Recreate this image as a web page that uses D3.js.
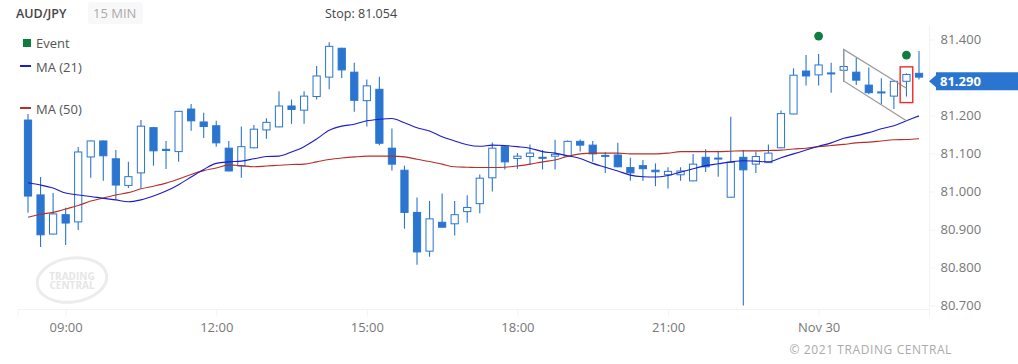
<!DOCTYPE html>
<html>
<head>
<meta charset="utf-8">
<script src="https://cdn.jsdelivr.net/npm/d3@7"></script>
<style>
    html, body { margin: 0; padding: 0; background: #fff; }
    svg { display: block; font-family: "Open Sans", sans-serif; }
</style>
</head>
<body>
<div id="chart"></div>
<script>
// AUD/JPY 15 min candles, one entry per bar (08:15 to 02:00)
const opens = [
    81.188, 80.991, 80.888, 80.939, 80.920, 81.091, 81.133, 81.086, 81.016, 81.049,
    81.168, 81.111, 81.105, 81.217, 81.183, 81.173, 81.114, 81.067, 81.115, 81.162,
    81.170, 81.225, 81.214, 81.250, 81.301, 81.377, 81.314, 81.239, 81.269, 81.114,
    81.056, 80.945, 80.843, 80.919, 80.915, 80.947, 80.968, 81.036, 81.118, 81.087,
    81.092, 81.090, 81.093, 81.093, 81.132, 81.122, 81.095, 81.096, 81.063, 81.068,
    81.056, 81.044, 81.044, 81.028, 81.090, 81.088, 80.985, 81.090, 81.072, 81.076,
    81.115, 81.204, 81.317, 81.307, 81.312, 81.319, 81.314, 81.280, 81.262, 81.251,
    81.290, 81.311
];
const closes = [
    80.988, 80.886, 80.941, 80.917, 81.104, 81.133, 81.094, 81.017, 81.039, 81.172,
    81.107, 81.108, 81.211, 81.186, 81.171, 81.128, 81.054, 81.118, 81.164, 81.182,
    81.225, 81.216, 81.251, 81.304, 81.382, 81.320, 81.240, 81.278, 81.127, 81.072,
    80.945, 80.841, 80.928, 80.906, 80.939, 80.958, 81.035, 81.114, 81.078, 81.093,
    81.101, 81.088, 81.098, 81.132, 81.122, 81.099, 81.093, 81.065, 81.049, 81.060,
    81.052, 81.053, 81.054, 81.072, 81.065, 81.087, 81.077, 81.057, 81.092, 81.101,
    81.205, 81.306, 81.304, 81.333, 81.311, 81.329, 81.293, 81.260, 81.260, 81.290,
    81.308, 81.301
];
const highs = [
    81.204, 81.038, 80.996, 80.957, 81.117, 81.134, 81.134, 81.109, 81.078, 81.188,
    81.170, 81.133, 81.212, 81.230, 81.207, 81.186, 81.133, 81.171, 81.175, 81.193,
    81.264, 81.242, 81.264, 81.330, 81.393, 81.378, 81.339, 81.295, 81.302, 81.166,
    81.068, 80.984, 80.975, 80.995, 80.975, 80.990, 81.045, 81.129, 81.120, 81.101,
    81.124, 81.109, 81.136, 81.134, 81.137, 81.133, 81.103, 81.128, 81.089, 81.083,
    81.074, 81.064, 81.064, 81.099, 81.111, 81.107, 81.197, 81.109, 81.105, 81.124,
    81.213, 81.324, 81.359, 81.362, 81.339, 81.374, 81.352, 81.326, 81.298, 81.293,
    81.311, 81.370
];
const lows = [
    80.944, 80.854, 80.887, 80.859, 80.899, 81.036, 81.028, 80.978, 81.009, 81.009,
    81.068, 81.059, 81.078, 81.160, 81.141, 81.118, 81.053, 81.036, 81.114, 81.139,
    81.169, 81.178, 81.178, 81.242, 81.269, 81.299, 81.210, 81.171, 81.122, 81.055,
    80.902, 80.807, 80.828, 80.905, 80.884, 80.918, 80.943, 81.000, 81.058, 81.059,
    81.070, 81.058, 81.058, 81.092, 81.105, 81.078, 81.049, 81.064, 81.028, 81.028,
    81.014, 81.008, 81.028, 81.027, 81.051, 81.039, 80.984, 80.700, 81.049, 81.075,
    81.114, 81.203, 81.279, 81.279, 81.260, 81.289, 81.280, 81.256, 81.229, 81.217,
    81.250, 81.295
];
const ma21 = [
    81.023, 81.017, 81.009, 80.996, 80.991, 80.987, 80.982, 80.978, 80.973, 80.978,
    80.988, 81.001, 81.018, 81.038, 81.058, 81.074, 81.078, 81.080, 81.086, 81.092,
    81.093, 81.104, 81.118, 81.138, 81.161, 81.172, 81.177, 81.186, 81.190, 81.192,
    81.181, 81.168, 81.159, 81.144, 81.133, 81.123, 81.119, 81.122, 81.121, 81.118,
    81.114, 81.105, 81.101, 81.094, 81.087, 81.074, 81.064, 81.054, 81.043, 81.039,
    81.038, 81.042, 81.051, 81.060, 81.068, 81.073, 81.078, 81.081, 81.080, 81.078,
    81.089, 81.099, 81.109, 81.119, 81.128, 81.140, 81.147, 81.155, 81.165, 81.173,
    81.186, 81.199
];
const ma50 = [
    80.932, 80.940, 80.945, 80.954, 80.963, 80.975, 80.983, 80.991, 80.997, 81.007,
    81.014, 81.022, 81.033, 81.045, 81.055, 81.062, 81.070, 81.068, 81.065, 81.067,
    81.069, 81.071, 81.072, 81.078, 81.084, 81.088, 81.091, 81.093, 81.093, 81.093,
    81.091, 81.085, 81.079, 81.072, 81.065, 81.064, 81.063, 81.063, 81.064, 81.067,
    81.072, 81.078, 81.083, 81.092, 81.099, 81.101, 81.101, 81.101, 81.099, 81.099,
    81.099, 81.101, 81.105, 81.105, 81.105, 81.105, 81.106, 81.107, 81.107, 81.108,
    81.109, 81.112, 81.114, 81.118, 81.121, 81.124, 81.128, 81.130, 81.133, 81.136,
    81.137, 81.139
];

// Axis labels
const timeTickBars = [3, 15, 27, 39, 51, 63];
const timeTickLabels = ["09:00", "12:00", "15:00", "18:00", "21:00", "Nov 30"];
const priceTicks = [81.4, 81.2, 81.1, 81.0, 80.9, 80.8, 80.7];

// Pattern annotations
const eventBars = [63, 70];
const eventPrices = [81.409, 81.359];
const channelBars = [65, 70];
const channelUpper = [81.374, 81.272];
const channelLower = [81.291, 81.186];
const signalBar = 70;
const signalPrices = [81.328, 81.234];
const lastPrice = 81.290;

const BLUE = "#2a75d0";

const width = 1018, height = 364;
const svg = d3.select("#chart").append("svg")
    .attr("width", width)
    .attr("height", height);

// Scales
const x = d3.scaleLinear().domain([0, opens.length - 1]).range([28, 919]);
const y = d3.scaleLinear().domain([80.7, 81.4]).range([305.5, 39.5]);

// Watermark
const mark = svg.append("g").attr("transform", "translate(72,280)");
mark.append("ellipse")
    .attr("rx", 35)
    .attr("ry", 22)
    .attr("transform", "rotate(-8)")
    .attr("fill", "none")
    .attr("stroke", "#ececec")
    .attr("stroke-width", 3);
mark.selectAll("text")
    .data(["TRADING", "CENTRAL"])
    .enter().append("text")
    .attr("y", (d, i) => i * 9.3)
    .attr("text-anchor", "middle")
    .attr("font-size", 10)
    .attr("font-weight", 700)
    .attr("fill", "#e6e6e6")
    .text(d => d);

// Axes
const xAxis = d3.axisBottom(x)
    .tickValues(timeTickBars)
    .tickFormat((d, i) => timeTickLabels[i])
    .tickSize(7)
    .tickPadding(6);

const xAxisGroup = svg.append("g")
    .attr("transform", "translate(0,309.5)")
    .call(xAxis);
xAxisGroup.select(".domain").remove();
xAxisGroup.append("path")
    .attr("d", "M18,0H929M18,0V7")
    .attr("fill", "none")
    .attr("stroke", "#f3f3f3");

const yAxis = d3.axisRight(y)
    .tickValues(priceTicks)
    .tickFormat(d3.format(".3f"))
    .tickSize(6)
    .tickPadding(5);

const yAxisGroup = svg.append("g")
    .attr("transform", "translate(929.5,0)")
    .call(yAxis);
yAxisGroup.select(".domain").remove();
yAxisGroup.append("path")
    .attr("d", "M0,26V317")
    .attr("stroke", "#f3f3f3");

svg.selectAll(".tick line").attr("stroke", "#f3f3f3");
svg.selectAll(".tick text")
    .attr("font-family", "'Open Sans', sans-serif")
    .attr("font-size", 13)
    .attr("fill", "#777");

// Candles
const bars = d3.range(opens.length);
const candles = svg.selectAll(".candle")
    .data(bars)
    .enter().append("g")
    .attr("class", "candle");

candles.append("line")
    .attr("x1", i => x(i))
    .attr("x2", i => x(i))
    .attr("y1", i => y(highs[i]))
    .attr("y2", i => y(lows[i]))
    .attr("stroke", BLUE)
    .attr("stroke-width", 1.1);

candles.append("rect")
    .attr("x", i => x(i) - 3.6)
    .attr("width", 7.2)
    .attr("y", i => y(Math.max(opens[i], closes[i])))
    .attr("height", i => Math.max(1, Math.abs(y(opens[i]) - y(closes[i]))))
    .attr("fill", i => closes[i] >= opens[i] ? "#fff" : BLUE)
    .attr("stroke", BLUE)
    .attr("stroke-width", 1);

// Moving averages
const maLine = d3.line()
    .x((d, i) => x(i))
    .y(d => y(d))
    .curve(d3.curveMonotoneX);

svg.append("path")
    .datum(ma50)
    .attr("d", maLine)
    .attr("fill", "none")
    .attr("stroke", "#b5302a")
    .attr("stroke-width", 1.1);

svg.append("path")
    .datum(ma21)
    .attr("d", maLine)
    .attr("fill", "none")
    .attr("stroke", "#1c1cc8")
    .attr("stroke-width", 1.1);

// Channel pattern
const channel = d3.path();
channel.moveTo(x(channelBars[1]), y(channelUpper[1]));
channel.lineTo(x(channelBars[0]), y(channelUpper[0]));
channel.lineTo(x(channelBars[0]), y(channelLower[0]));
channel.lineTo(x(channelBars[1]), y(channelLower[1]));
svg.append("path")
    .attr("d", channel.toString())
    .attr("fill", "none")
    .attr("stroke", "#9a9a9a")
    .attr("stroke-width", 1.2);

// Signal box
svg.append("rect")
    .attr("x", x(signalBar) - 6.3)
    .attr("width", 12.6)
    .attr("y", y(signalPrices[0]))
    .attr("height", y(signalPrices[1]) - y(signalPrices[0]))
    .attr("fill", "none")
    .attr("stroke", "#ee2b2b")
    .attr("stroke-width", 1.4);

// Events
svg.selectAll(".event")
    .data(eventBars)
    .enter().append("circle")
    .attr("class", "event")
    .attr("cx", d => x(d))
    .attr("cy", (d, i) => y(eventPrices[i]))
    .attr("r", 4.4)
    .attr("fill", "#0e7d3f");

// Last price tag
const tagY = y(lastPrice);
svg.append("path")
    .attr("d", `M929,${tagY}L936,${tagY - 6}V${tagY - 9}H1018V${tagY + 9}H936V${tagY + 6}Z`)
    .attr("fill", BLUE);
svg.append("text")
    .attr("x", 940)
    .attr("y", tagY + 5)
    .attr("font-size", 13)
    .attr("font-weight", 700)
    .attr("fill", "#fff")
    .text(d3.format(".3f")(lastPrice));

// Header
svg.append("text")
    .attr("x", 16)
    .attr("y", 18)
    .attr("font-size", 12.5)
    .attr("font-weight", 600)
    .attr("fill", "#444")
    .text("AUD/JPY");
svg.append("rect")
    .attr("x", 88)
    .attr("y", 2)
    .attr("width", 55)
    .attr("height", 22)
    .attr("rx", 3)
    .attr("fill", "#f8f8f8");
svg.append("text")
    .attr("x", 93)
    .attr("y", 18)
    .attr("font-size", 13)
    .attr("fill", "#aaa")
    .text("15 MIN");
svg.append("text")
    .attr("x", 325)
    .attr("y", 18)
    .attr("font-size", 12.5)
    .attr("fill", "#444")
    .text("Stop: 81.054");

// Legend
svg.append("rect")
    .attr("x", 23)
    .attr("y", 39)
    .attr("width", 8)
    .attr("height", 8)
    .attr("fill", "#0e7d3f");
svg.append("line")
    .attr("x1", 20).attr("x2", 31)
    .attr("y1", 66).attr("y2", 66)
    .attr("stroke", "#1c1cc8")
    .attr("stroke-width", 2);
svg.append("line")
    .attr("x1", 20).attr("x2", 31)
    .attr("y1", 108).attr("y2", 108)
    .attr("stroke", "#b5302a")
    .attr("stroke-width", 2);
svg.selectAll(".legend-label")
    .data([["Event", 48], ["MA (21)", 72], ["MA (50)", 114]])
    .enter().append("text")
    .attr("class", "legend-label")
    .attr("x", 36)
    .attr("y", d => d[1])
    .attr("font-size", 13)
    .attr("fill", "#555")
    .text(d => d[0]);

// Footer
svg.append("text")
    .attr("x", 952)
    .attr("y", 354)
    .attr("text-anchor", "end")
    .attr("font-size", 12)
    .attr("letter-spacing", 0.6)
    .attr("fill", "#aaa")
    .text("© 2021 TRADING CENTRAL");
</script>
</body>
</html>
